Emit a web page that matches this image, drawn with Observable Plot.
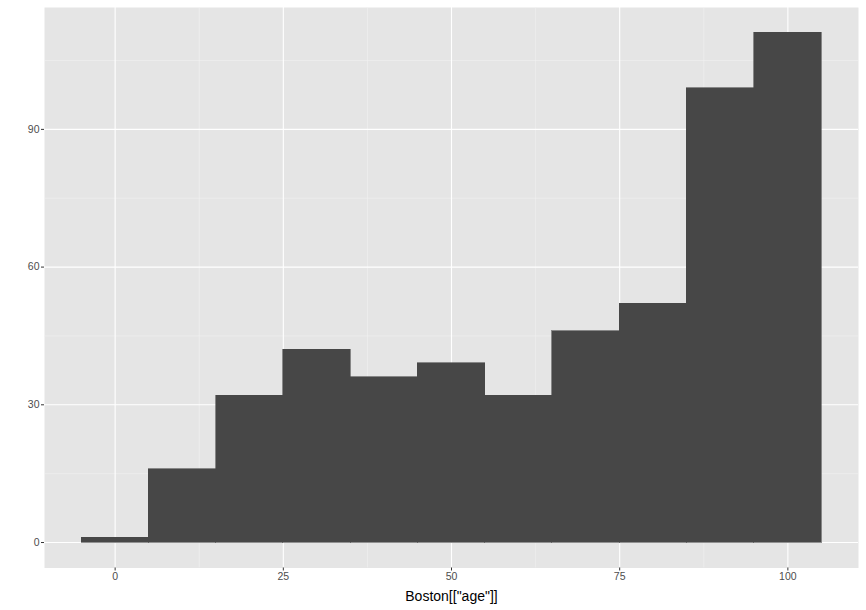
<!DOCTYPE html>
<html>
<head>
<meta charset="utf-8">
<script src="https://cdn.jsdelivr.net/npm/d3@7"></script>
<script src="https://cdn.jsdelivr.net/npm/@observablehq/plot@0.6"></script>
<style>
  html, body { margin: 0; padding: 0; background: #ffffff; }
  #chart svg { display: block; }
</style>
</head>
<body>
<div id="chart"></div>
<script>
const binStarts = [-5, 5, 15, 25, 35, 45, 55, 65, 75, 85, 95];
const binWidth = 10;
const counts = [1, 16, 32, 42, 36, 39, 32, 46, 52, 99, 111];
const xTicks = [0, 25, 50, 75, 100];
const xMinor = [12.5, 37.5, 62.5, 87.5];
const yTicks = [0, 30, 60, 90];
const yMinor = [15, 45, 75, 105];
const xTitle = 'Boston[["age"]]';

const bins = binStarts.map((s, i) => ({x1: s, x2: s + binWidth, y: counts[i]}));

const chart = Plot.plot({
  width: 866,
  height: 610,
  marginLeft: 44,
  marginRight: 8,
  marginTop: 7,
  marginBottom: 42.5,
  style: {fontFamily: "'Liberation Sans', Arial, Helvetica, sans-serif", background: "#ffffff"},
  x: {domain: [-10.5, 110.5]},
  y: {domain: [-5.55, 116.55]},
  marks: [
    Plot.frame({fill: "#e5e5e5", stroke: null}),
    Plot.ruleX(xMinor, {stroke: "#f2f2f2", strokeWidth: 0.6}),
    Plot.ruleY(yMinor, {stroke: "#f2f2f2", strokeWidth: 0.6}),
    Plot.ruleX(xTicks, {stroke: "#ffffff", strokeWidth: 1.1}),
    Plot.ruleY(yTicks, {stroke: "#ffffff", strokeWidth: 1.1}),
    Plot.rectY(bins, {x1: "x1", x2: "x2", y: "y", fill: "#474747", stroke: "#474747", strokeWidth: 0.6, inset: 0, shapeRendering: "crispEdges"}),
    Plot.axisX(xTicks, {tickSize: 3, tickPadding: 2, stroke: "#333333", fill: "#4d4d4d", fontSize: 10.5, label: null}),
    Plot.axisY(yTicks, {tickSize: 3, tickPadding: 2, stroke: "#333333", fill: "#4d4d4d", fontSize: 10.5, label: null}),
    Plot.text([xTitle], {frameAnchor: "bottom", dy: 28.5, lineAnchor: "middle", fill: "#000000", fontSize: 14, text: d => d})
  ]
});
document.getElementById("chart").append(chart);
</script>
</body>
</html>
